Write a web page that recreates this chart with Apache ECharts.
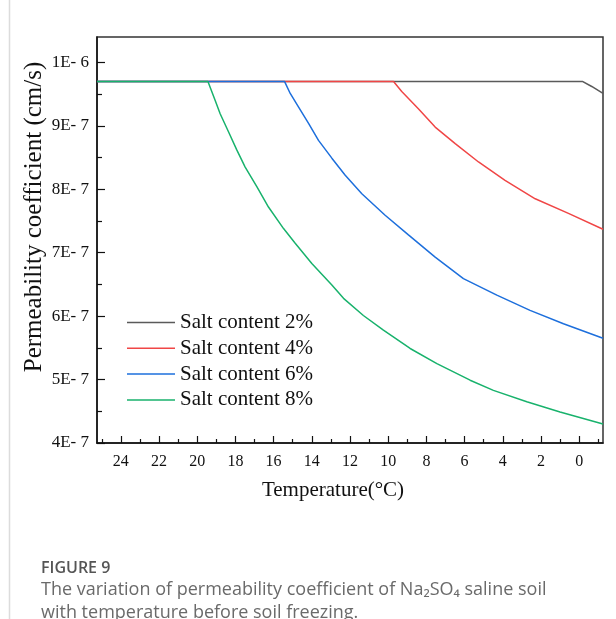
<!DOCTYPE html>
<html>
<head>
<meta charset="utf-8">
<script src="https://cdn.jsdelivr.net/npm/echarts@6/dist/echarts.min.js"></script>
<style>
  html, body { margin: 0; padding: 0; background: #fff; }
  #chart { width: 616px; height: 619px; }
</style>
</head>
<body>
<div id="chart"></div>
<script>
// temperature (°C) and permeability coefficient (x 1E-7 cm/s)
const tempGray  = [25.25, -0.17, -0.66, -1.25]
const permGray  = [9.70, 9.70, 9.62, 9.51]

const tempRed   = [25.25, 9.72, 9.29, 8.42, 7.54, 6.49, 5.27, 3.88, 2.30, 0.56, -1.25]
const permRed   = [9.70, 9.70, 9.54, 9.27, 8.98, 8.72, 8.43, 8.14, 7.85, 7.62, 7.37]

const tempBlue  = [25.25, 15.43, 15.13, 14.70, 14.17, 13.65, 12.95, 12.25, 11.38, 10.16, 8.94, 7.54, 6.06, 4.31, 2.57, 0.82, -1.25]
const permBlue  = [9.70, 9.70, 9.51, 9.30, 9.04, 8.77, 8.49, 8.22, 7.93, 7.59, 7.28, 6.93, 6.59, 6.33, 6.09, 5.88, 5.65]

const tempGreen = [25.25, 19.44, 19.06, 18.80, 18.37, 17.93, 17.49, 16.88, 16.27, 15.48, 14.87, 14.00, 12.95, 12.34, 11.30, 10.25, 8.85, 7.45, 5.71, 4.49, 2.74, 1.00, -1.25]
const permGreen = [9.70, 9.70, 9.40, 9.19, 8.91, 8.62, 8.35, 8.04, 7.72, 7.38, 7.15, 6.83, 6.49, 6.28, 6.01, 5.78, 5.49, 5.25, 4.99, 4.83, 4.65, 4.49, 4.30]

const seriesNames = ['Salt content 2%', 'Salt content 4%', 'Salt content 6%', 'Salt content 8%']
const xMajorTicks = [24, 22, 20, 18, 16, 14, 12, 10, 8, 6, 4, 2, 0]
const xMinorTicks = [25, 23, 21, 19, 17, 15, 13, 11, 9, 7, 5, 3, 1, -1]
const yMajorTicks = [4, 5, 6, 7, 8, 9, 10]
const yMinorTicks = [4.5, 5.5, 6.5, 7.5, 8.5, 9.5]

const serif = '"Liberation Serif", "Times New Roman", serif'

function pairs(xs, ys) {
  return xs.map((x, i) => [x, ys[i]])
}

let chart = echarts.init(document.getElementById('chart'))

let mkLine = (name, xs, ys, color) => ({
  name: name,
  type: 'line',
  data: pairs(xs, ys),
  symbol: 'none',
  lineStyle: { color: color, width: 1.5 },
  itemStyle: { color: color },
  z: 3
})

let xBase = {
  type: 'value',
  inverse: true,
  min: -1.25,
  max: 25.25,
  splitLine: { show: false }
}
let yBase = {
  type: 'value',
  position: 'left',
  min: 4,
  max: 10.4,
  splitLine: { show: false }
}
let tickLine = { color: '#111', width: 1.2 }

chart.setOption({
  animation: false,
  grid: {
    left: 97, right: 13, top: 37, bottom: 176,
    show: true, borderColor: '#333', borderWidth: 1.5
  },
  legend: {
    orient: 'vertical',
    left: 127,
    top: 312,
    padding: 0,
    icon: 'rect',
    itemWidth: 48,
    itemHeight: 1.5,
    itemGap: 4.8,
    textStyle: { fontFamily: serif, fontSize: 21, lineHeight: 21, color: '#111' },
    data: seriesNames
  },
  xAxis: [
    Object.assign({}, xBase, {
      name: 'Temperature(°C)',
      nameLocation: 'middle',
      nameGap: 37,
      nameTextStyle: { fontFamily: serif, fontSize: 21, color: '#111', padding: [0, 34, 0, 0] },
      axisLine: { onZero: false, lineStyle: { color: '#111', width: 1.5 } },
      axisTick: { inside: true, length: 7, customValues: xMajorTicks, lineStyle: tickLine },
      axisLabel: { customValues: xMajorTicks, fontFamily: serif, fontSize: 16, color: '#111', margin: 11 }
    }),
    Object.assign({}, xBase, {
      position: 'bottom',
      axisLine: { show: false, onZero: false },
      axisTick: { inside: true, length: 4, customValues: xMinorTicks, lineStyle: tickLine },
      axisLabel: { show: false, customValues: xMinorTicks }
    })
  ],
  yAxis: [
    Object.assign({}, yBase, {
      name: 'Permeability coefficient (cm/s)',
      nameLocation: 'middle',
      nameGap: 50,
      nameMoveOverlap: false,
      nameTextStyle: { fontFamily: serif, fontSize: 25, color: '#111', padding: [0, 0, 0, 46] },
      axisLine: { show: true, onZero: false, lineStyle: { color: '#111', width: 1.5 } },
      axisTick: { inside: true, length: 8, customValues: yMajorTicks, lineStyle: tickLine },
      axisLabel: {
        customValues: yMajorTicks,
        fontFamily: serif, fontSize: 17, color: '#111', margin: 8,
        formatter: v => (Math.abs(v - 10) < 1e-6 ? '1E- 6' : Math.round(v) + 'E- 7')
      }
    }),
    Object.assign({}, yBase, {
      axisLine: { show: false, onZero: false },
      axisTick: { inside: true, length: 5, customValues: yMinorTicks, lineStyle: tickLine },
      axisLabel: { show: false, customValues: yMinorTicks }
    })
  ],
  series: [
    mkLine(seriesNames[0], tempGray, permGray, '#5a5a5a'),
    mkLine(seriesNames[1], tempRed, permRed, '#f04646'),
    mkLine(seriesNames[2], tempBlue, permBlue, '#1d6fdc'),
    mkLine(seriesNames[3], tempGreen, permGreen, '#18b26c')
  ],
  graphic: [
    {
      type: 'line',
      shape: { x1: 9.5, y1: 0, x2: 9.5, y2: 619 },
      style: { stroke: '#dcdcdc', lineWidth: 1.5 }
    },
    {
      type: 'text', left: 41, top: 560,
      style: { text: 'FIGURE 9', fontFamily: '"Open Sans", sans-serif', fontSize: 16, fontWeight: 600, fill: '#555' }
    },
    {
      type: 'text', left: 41, top: 578,
      style: {
        text: 'The variation of permeability coefficient of Na\u2082SO\u2084 saline soil\nwith temperature before soil freezing.',
        fontFamily: '"Open Sans", sans-serif', fontSize: 18, lineHeight: 23, fill: '#6a6a6a'
      }
    }
  ]
})
</script>
</body>
</html>
